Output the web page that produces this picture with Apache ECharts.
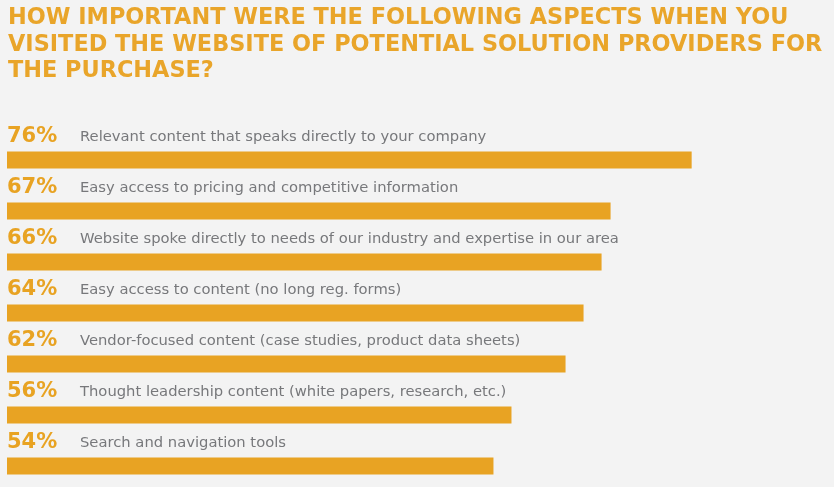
<!DOCTYPE html>
<html>
<head>
<meta charset="utf-8">
<script src="https://cdn.jsdelivr.net/npm/echarts@6/dist/echarts.min.js"></script>
<style>
html,body{margin:0;padding:0;background:#F3F3F3;}
#c{width:834px;height:487px;}
</style>
</head>
<body>
<div id="c"></div>
<script>
const titleText = "HOW IMPORTANT WERE THE FOLLOWING ASPECTS WHEN YOU\nVISITED THE WEBSITE OF POTENTIAL SOLUTION PROVIDERS FOR\nTHE PURCHASE?";
const categories = [
  "Relevant content that speaks directly to your company",
  "Easy access to pricing and competitive information",
  "Website spoke directly to needs of our industry and expertise in our area",
  "Easy access to content (no long reg. forms)",
  "Vendor-focused content (case studies, product data sheets)",
  "Thought leadership content (white papers, research, etc.)",
  "Search and navigation tools"
];
const values = [76, 67, 66, 64, 62, 56, 54];

const ORANGE = '#E8A323';
const chart = echarts.init(document.getElementById('c'), null, {renderer: 'canvas'});
chart.setOption({
  backgroundColor: '#F3F3F3',
  animation: false,
  title: {
    text: titleText,
    left: 3,
    top: 0,
    textStyle: {
      color: '#E9A52A',
      fontFamily: 'DejaVu Sans',
      fontWeight: 'bold',
      fontSize: 22.4,
      lineHeight: 26.5
    }
  },
  grid: {left: 7, top: 160, right: 0, height: 306, containLabel: false},
  xAxis: {type: 'value', min: 0, max: 91.8, show: false},
  yAxis: {type: 'category', data: categories, inverse: true, show: false, boundaryGap: false},
  series: [{
    type: 'bar',
    data: values,
    barWidth: 17,
    itemStyle: {color: ORANGE},
    label: {
      show: true,
      position: [0, -14.5],
      verticalAlign: 'middle',
      align: 'left',
      formatter: function (p) {
        return '{p|' + p.value + '%}{d|' + p.name + '}';
      },
      rich: {
        p: {fontFamily: 'DejaVu Sans', fontWeight: 'bold', fontSize: 21, color: ORANGE, width: 73, lineHeight: 24},
        d: {fontFamily: 'DejaVu Sans', fontSize: 14.75, color: '#77787B', lineHeight: 24}
      }
    }
  }]
});
</script>
</body>
</html>
